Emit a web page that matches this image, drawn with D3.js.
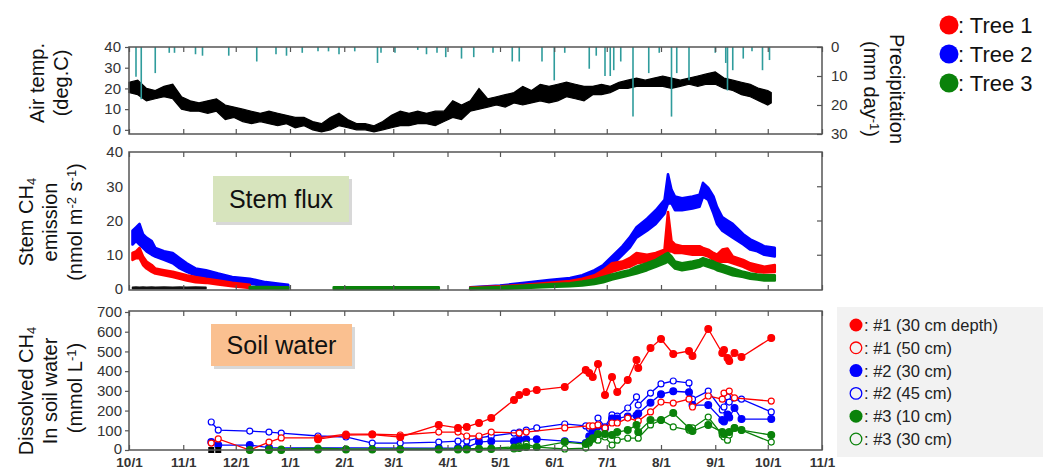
<!DOCTYPE html>
<html>
<head>
<meta charset="utf-8">
<script src="https://cdn.jsdelivr.net/npm/d3@7"></script>
<style>
  body { margin: 0; background: #fff; font-family: "Liberation Sans", Arial, sans-serif; }
  .tick text { fill: #333; font-size: 15px; font-family: "Liberation Sans", Arial, sans-serif; }
  .tick line { stroke: #555; stroke-width: 1.2; }
</style>
</head>
<body>
<svg id="chart" width="1049" height="470"></svg>
<script>
// ---- data (days counted from 10/1) ----
const startDate = new Date(2013, 9, 1);
const endDate = new Date(2014, 10, 1);

// air temperature, low / high of the hourly band every ~5 days
const tempDays = [0,5,10,15,20,25,30,35,40,45,50,55,60,65,70,75,80,85,90,95,100,105,110,115,120,125,130,135,140,145,150,155,160,165,170,175,180,185,190,195,200,205,210,215,220,225,230,235,240,245,250,255,260,265,270,275,280,285,290,295,300,305,310,315,320,325,330,335,340,345,350,355,360,365,367];
const tempLow  = [18,17,14,15,16,15,10,9,9,8,9,5,6,4,3,4,3,2,3,1,2,0,-1,0,2,1,0,0,-1,0,1,2,2,3,3,2,4,6,5,9,10,11,12,11,13,12,13,14,13,14,16,15,14,17,17,18,20,20,21,21,21,21,20,21,22,21,22,22,20,19,17,16,14,12,13];
const tempHigh = [23,24,20,19,21,22,16,14,13,14,15,12,11,10,9,8,9,8,7,6,6,4,3,6,8,5,3,3,2,4,7,9,8,9,8,9,9,14,12,14,20,15,16,17,18,21,19,22,21,22,23,22,21,21,22,21,23,24,25,24,25,26,25,24,25,26,27,28,25,24,23,22,20,19,18];

// daily precipitation (mm day-1)
const precipDays = [4,7,15,23,26,38,42,57,73,84,90,99,108,114,120,129,142,144,152,165,170,176,181,190,197,208,219,223,236,243,249,263,267,272,275,277,281,288,297,303,310,313,320,335,341,342,345,351,356,362,366];
const precipMm   = [10.3,18,9,2,2,2.5,3,3,5,2.5,3,2,1.5,1.5,2.5,1.5,5.5,2,2,1,2.5,2,3.5,4,3.5,2,5,5,5,11.5,2,7.5,3,10,10,8,5,24,9,2,24,9,11.5,2,5.5,15,8,4,1.5,8,4.5];

// stem CH4 flux bands (nmol m-2 s-1), null = no measurement
const fluxDays = [2,4,6,8,10,13,15,20,25,29,33,38,44,51,59,69,78,86,91,104,117,140,160,177,186,195,212,226,240,252,259,266,271,276,282,286,290,296,301,306,308,310,312,316,322,326,328,331,334,336,339,342,345,351,355,359,363,369];
const n5 = [null,null,null,null,null];
const tree1Lo = [8.5,9,9,7,6,5,4.5,4,3.5,3,2.5,2,1.8,1.3,0.8,0.3,null,null,null, null, null,null,null,null, null,
  0,0.2,0.5,0.8,1.2,1.5,2.5,3.5,5,6, 6.5,7.5,8,8.5,9.5,11,11,10.5,10.5,10, 10,10,9.5,8.5,8,8,8,7.5,6.5,5.5, 5,4.8,5];
const tree1Hi = [10.5,11,12,9.5,8,7,6,5.5,5,4.5,4,3.5,3,2.5,1.8,1.2,null,null,null, null, null,null,null,null, null,
  0.4,0.8,1.2,1.8,2.3,3,4,5.5,7.5,8, 9,10.5,10,10.5,11.5,22.5,14,13,12.5,12.5, 12.5,12,11.5,10.5,10,11.5,11.8,9.5,8.5,7.5, 7,6.5,7];
const tree2Lo = [13,14,13,12,11,10,9.5,8.5,7.5,6,5,4,3.5,3,2,1.5,1,0.5,0.3, null, null,null,null,null, null,
  0,0.3,0.8,1.5,2,2.6,4,5,7,10, 12,15,17,19,22,25,25,23,23,23.5, 24,27,26,22,19,17,16,15,13,11.5, 11,10,9.5];
const tree2Hi = [17,18,19,16,15,14,12,11,10.5,9,7.5,6,5.5,4.5,3.5,3,2,1.5,1.2, null, null,null,null,null, null,
  0.5,1,1.8,2.6,3.2,4,5.5,7,9.5,12.5, 15,18,20.5,23,26,33.5,29,27,26.5,27, 27.5,31,29.5,27,24,21,20,19,16,14.5, 13.5,12.5,12];
const tree3Lo = [...n5,...n5,...n5, 0.1,0.1,0,0, null, 0,0,0,0, null,
  0,0,0.3,0.6,0.8,1,1.5,2,2.8,3.5, 4,4.5,5.5,6.5,7.5,8,7,6,5.5,6, 6.5,7,6.5,6,5.5,5,4.5,4,3.5,3, 2.8,2.5,2.5];
const tree3Hi = [...n5,...n5,...n5, 0.6,0.6,0.5,0.5, null, 0.5,0.5,0.5,0.5, null,
  0.3,0.6,1,1.4,1.7,2.2,2.8,3.5,4.2,5, 5.5,6.5,7.5,8.5,10,10.5,9.5,8,7.5,8, 8.5,9,8.5,8,7.5,7,6.5,6,5,4.5, 4.2,4,4];
const refLo = [0.1,0.1,0.1,0.1,0.1,0.1,0.1,0.1,0.1,0.1,0.1,0.1,0.1];
const refHi = [0.5,0.6,0.5,0.6,0.5,0.6,0.5,0.6,0.5,0.6,0.5,0.6,0.5];

// dissolved CH4 in soil water (mmol L-1)
const soilDays = [47,51,69,80,87,108,124,139,155,177,188,193,200,207,220,223,227,233,249,261,263,265,268,272,276,279,285,290,291,298,304,311,320,322,331,339,340,342,343,346,350,367];
const soil1Deep30 = [null,null,null,null,null,55,75,78,66,127,112,117,137,162,254,279,294,304,320,406,391,370,436,279,370,294,355,457,416,517,563,487,502,477,614,492,507,467,451,492,472,568];
const soil1Deep50 = [35,56,0,40,61,61,81,81,76,91,91,71,71,91,null,86,91,null,112,null,122,122,127,112,137,137,162,null,147,193,243,238,258,218,274,258,289,null,299,264,null,248];
const soil2Deep30 = [40,25,25,12,null,null,null,null,null,10,10,12,40,45,45,55,55,55,45,35,70,90,120,110,160,160,170,175,185,240,283,298,293,228,228,152,145,180,165,213,157,157];
const soil2Deep45 = [142,101,96,91,86,71,66,35,35,40,45,45,61,71,86,91,101,112,132,122,110,101,162,117,178,172,213,269,228,289,335,350,340,258,299,203,218,269,243,null,258,193];
const soil3Deep10 = [null,null,0,0,0,3,2,2,2,2,2,2,5,5,8,10,15,15,40,30,45,60,81,81,76,91,101,127,91,152,152,188,112,96,127,91,81,null,91,112,101,76];
const soil3Deep30 = [null,null,null,5,5,10,5,5,5,5,5,5,8,10,15,20,30,15,5,10,35,55,50,66,25,50,60,null,60,127,152,117,101,112,167,76,66,50,76,112,101,40];
const soilBlackDays = [47,51];

const treeNames = ["Tree 1", "Tree 2", "Tree 3"];
const soilNames = ["#1 (30 cm depth)", "#1 (50 cm)", "#2 (30 cm)", "#2 (45 cm)", "#3 (10 cm)", "#3 (30 cm)"];

const RED = "#ff0000", BLUE = "#0000ff", GREEN = "#0a820a", TEAL = "#2f9c9c";

// ---- layout ----
const svg = d3.select("#chart");
const L = 129, R = 822;
const top1 = 47, bot1 = 134;
const top2 = 152, bot2 = 290;
const top3 = 311, bot3 = 450;

const day = d => d3.timeDay.offset(startDate, d);
const x = d3.scaleTime().domain([startDate, endDate]).range([L, R]);
const months = d3.timeMonth.range(startDate, d3.timeDay.offset(endDate, 1));

function frame(t, b) {
  svg.append("rect").attr("x", L).attr("y", t).attr("width", R - L).attr("height", b - t)
    .attr("fill", "none").attr("stroke", "#555").attr("stroke-width", 1.5);
}
function monthTicks(t, b, labels) {
  svg.append("g").attr("transform", `translate(0,${t})`)
    .call(d3.axisTop(x).tickValues(months).tickSize(-5).tickFormat(""))
    .call(g => g.select(".domain").remove());
  svg.append("g").attr("transform", `translate(0,${b})`)
    .call(d3.axisBottom(x).tickValues(months).tickSize(-5).tickPadding(7)
      .tickFormat(labels ? d3.timeFormat("%-m/%-d") : ""))
    .call(g => g.select(".domain").remove())
    .call(g => g.selectAll("text").attr("font-weight", "bold").attr("fill", "#444")
      .style("font-size", "13.5px"));
}

// ---- panel 1: air temperature and precipitation ----
const yT = d3.scaleLinear().domain([-2, 40]).range([bot1, top1]);
const yP = d3.scaleLinear().domain([0, 30]).range([top1, bot1]);
const tempData = tempDays.map((d, i) => ({ t: day(d), lo: tempLow[i], hi: tempHigh[i] }));

svg.append("path").datum(tempData)
  .attr("d", d3.area().x(d => x(d.t)).y0(d => yT(d.lo)).y1(d => yT(d.hi)))
  .attr("fill", "#000").attr("stroke", "#000").attr("stroke-width", 1.2);

svg.append("g").selectAll("line").data(precipDays).join("line")
  .attr("x1", d => x(day(d))).attr("x2", d => x(day(d)))
  .attr("y1", yP(0)).attr("y2", (d, i) => yP(precipMm[i]))
  .attr("stroke", TEAL).attr("stroke-width", 1.6);

frame(top1, bot1);
monthTicks(top1, bot1, false);
svg.append("g").attr("transform", `translate(${L},0)`)
  .call(d3.axisLeft(yT).tickValues([0, 10, 20, 30, 40]).tickSize(4).tickPadding(4))
  .call(g => g.select(".domain").remove());
svg.append("g").attr("transform", `translate(${R},0)`)
  .call(d3.axisRight(yP).tickValues([0, 10, 20, 30]).tickSize(-5).tickPadding(9))
  .call(g => g.select(".domain").remove());

// ---- panel 2: stem CH4 flux ----
const yF = d3.scaleLinear().domain([0, 40]).range([289, top2]);
const bands = [
  { lo: refLo, hi: refHi, color: "#111", w: 1.5 },
  { lo: tree1Lo, hi: tree1Hi, color: RED, w: 2.6 },
  { lo: tree2Lo, hi: tree2Hi, color: BLUE, w: 2.6 },
  { lo: tree3Lo, hi: tree3Hi, color: GREEN, w: 2.6 }
];
// blue is drawn beneath red and green as in the figure
[2, 1, 3, 0].forEach(k => {
  const b = bands[k];
  const data = fluxDays.map((d, i) => ({ t: day(d), lo: b.lo[i], hi: b.hi[i] }));
  svg.append("path").datum(data)
    .attr("d", d3.area().defined(d => d.lo != null && d.hi != null)
      .x(d => x(d.t)).y0(d => yF(d.lo)).y1(d => yF(d.hi)))
    .attr("fill", b.color).attr("stroke", b.color).attr("stroke-width", b.w)
    .attr("stroke-linejoin", "round");
});

frame(top2, bot2);
monthTicks(top2, bot2, false);
svg.append("g").attr("transform", `translate(${L},0)`)
  .call(d3.axisLeft(yF).tickValues([0, 10, 20, 30, 40]).tickSize(0).tickPadding(6))
  .call(g => g.select(".domain").remove());
svg.append("g").attr("transform", `translate(${R},0)`)
  .call(d3.axisRight(yF).tickValues([10, 20, 30]).tickSize(-5).tickFormat(""))
  .call(g => g.select(".domain").remove());

// ---- panel 3: dissolved CH4 ----
const yS = d3.scaleLinear().domain([0, 700]).range([bot3, top3 + 1]);
const soilSeries = [
  { v: soil2Deep45, color: BLUE, filled: false },
  { v: soil2Deep30, color: BLUE, filled: true },
  { v: soil1Deep50, color: RED, filled: false },
  { v: soil1Deep30, color: RED, filled: true },
  { v: soil3Deep30, color: GREEN, filled: false },
  { v: soil3Deep10, color: GREEN, filled: true }
];
soilSeries.forEach(s => {
  const pts = soilDays.map((d, i) => ({ t: day(d), v: s.v[i] })).filter(p => p.v != null);
  svg.append("path").datum(pts)
    .attr("d", d3.line().x(p => x(p.t)).y(p => yS(p.v)))
    .attr("fill", "none").attr("stroke", s.color).attr("stroke-width", 1.3);
  svg.append("g").selectAll("circle").data(pts).join("circle")
    .attr("cx", p => x(p.t)).attr("cy", p => yS(p.v))
    .attr("r", s.filled ? 3.4 : 3)
    .attr("fill", s.filled ? s.color : "#fff")
    .attr("stroke", s.color).attr("stroke-width", 1.2);
});
svg.append("g").selectAll("rect").data(soilBlackDays).join("rect")
  .attr("x", d => x(day(d)) - 3).attr("y", yS(0) - 3).attr("width", 6).attr("height", 6)
  .attr("fill", "#000");

frame(top3, bot3);
monthTicks(top3, bot3, true);
svg.append("g").attr("transform", `translate(${L},0)`)
  .call(d3.axisLeft(yS).tickValues(d3.range(0, 701, 100)).tickSize(4).tickPadding(3))
  .call(g => g.select(".domain").remove())
  .call(g => g.selectAll(".tick text").filter(d => d === 0).attr("dy", "0.2em"));

// ---- label boxes ----
function labelBox(x0, y0, w, h, fill, text) {
  svg.append("rect").attr("x", x0 + 3).attr("y", y0 + 3).attr("width", w).attr("height", h)
    .attr("fill", "#c8c8c8").attr("opacity", 0.7);
  svg.append("rect").attr("x", x0).attr("y", y0).attr("width", w).attr("height", h).attr("fill", fill);
  svg.append("text").attr("x", x0 + w / 2).attr("y", y0 + h / 2 + 9)
    .attr("text-anchor", "middle").attr("font-size", 25).attr("fill", "#111").text(text);
}
labelBox(213, 176, 136, 46, "#d7e4bd", "Stem flux");
labelBox(211, 324, 141, 42, "#fac090", "Soil water");

// ---- axis titles ----
function vTitle(xb, yc, parts, rot) {
  const t = svg.append("text").attr("transform", `translate(${xb},${yc}) rotate(${rot})`)
    .attr("text-anchor", "middle").attr("font-size", 20).attr("fill", "#111");
  parts.forEach(p => {
    const s = t.append("tspan").text(p[0]);
    if (p[1] === "sub") s.attr("font-size", 13).attr("baseline-shift", "-25%");
    if (p[1] === "sup") s.attr("font-size", 13).attr("baseline-shift", "45%");
  });
}
vTitle(44, 83, [["Air temp."]], -90);
vTitle(68, 83, [["(deg.C)"]], -90);
vTitle(33, 222, [["Stem CH"], ["4", "sub"]], -90);
vTitle(57, 222, [["emission"]], -90);
vTitle(82, 222, [["(nmol m"], ["-2", "sup"], [" s"], ["-1", "sup"], [")"]], -90);
vTitle(33, 391, [["Dissolved CH"], ["4", "sub"]], -90);
vTitle(57, 391, [["In soil water"]], -90);
vTitle(82, 388, [["(mmol L"], ["-1", "sup"], [")"]], -90);
vTitle(890, 89, [["Precipitation"]], 90);
vTitle(864, 89, [["(mm day"], ["-1", "sup"], [")"]], 90);

// ---- tree legend ----
const treeColors = [RED, BLUE, GREEN];
treeNames.forEach((n, i) => {
  const cy = 25 + i * 29;
  svg.append("circle").attr("cx", 949).attr("cy", cy).attr("r", 9.5).attr("fill", treeColors[i]);
  svg.append("text").attr("x", 958).attr("y", cy + 8).attr("font-size", 22).attr("fill", "#111")
    .text(": " + n);
});

// ---- soil legend ----
svg.append("rect").attr("x", 837).attr("y", 307).attr("width", 206).attr("height", 150).attr("fill", "#f2f2f2");
const soilLegend = [
  { c: RED, f: true }, { c: RED, f: false }, { c: BLUE, f: true },
  { c: BLUE, f: false }, { c: GREEN, f: true }, { c: GREEN, f: false }
];
soilNames.forEach((n, i) => {
  const cy = 325 + i * 22.8;
  const s = soilLegend[i];
  svg.append("circle").attr("cx", 856).attr("cy", cy).attr("r", s.f ? 6.5 : 5.8)
    .attr("fill", s.f ? s.c : "none").attr("stroke", s.c).attr("stroke-width", s.f ? 0 : 1.3);
  svg.append("text").attr("x", 864).attr("y", cy + 6).attr("font-size", 16.5).attr("fill", "#222")
    .text(": " + n);
});
</script>
</body>
</html>
